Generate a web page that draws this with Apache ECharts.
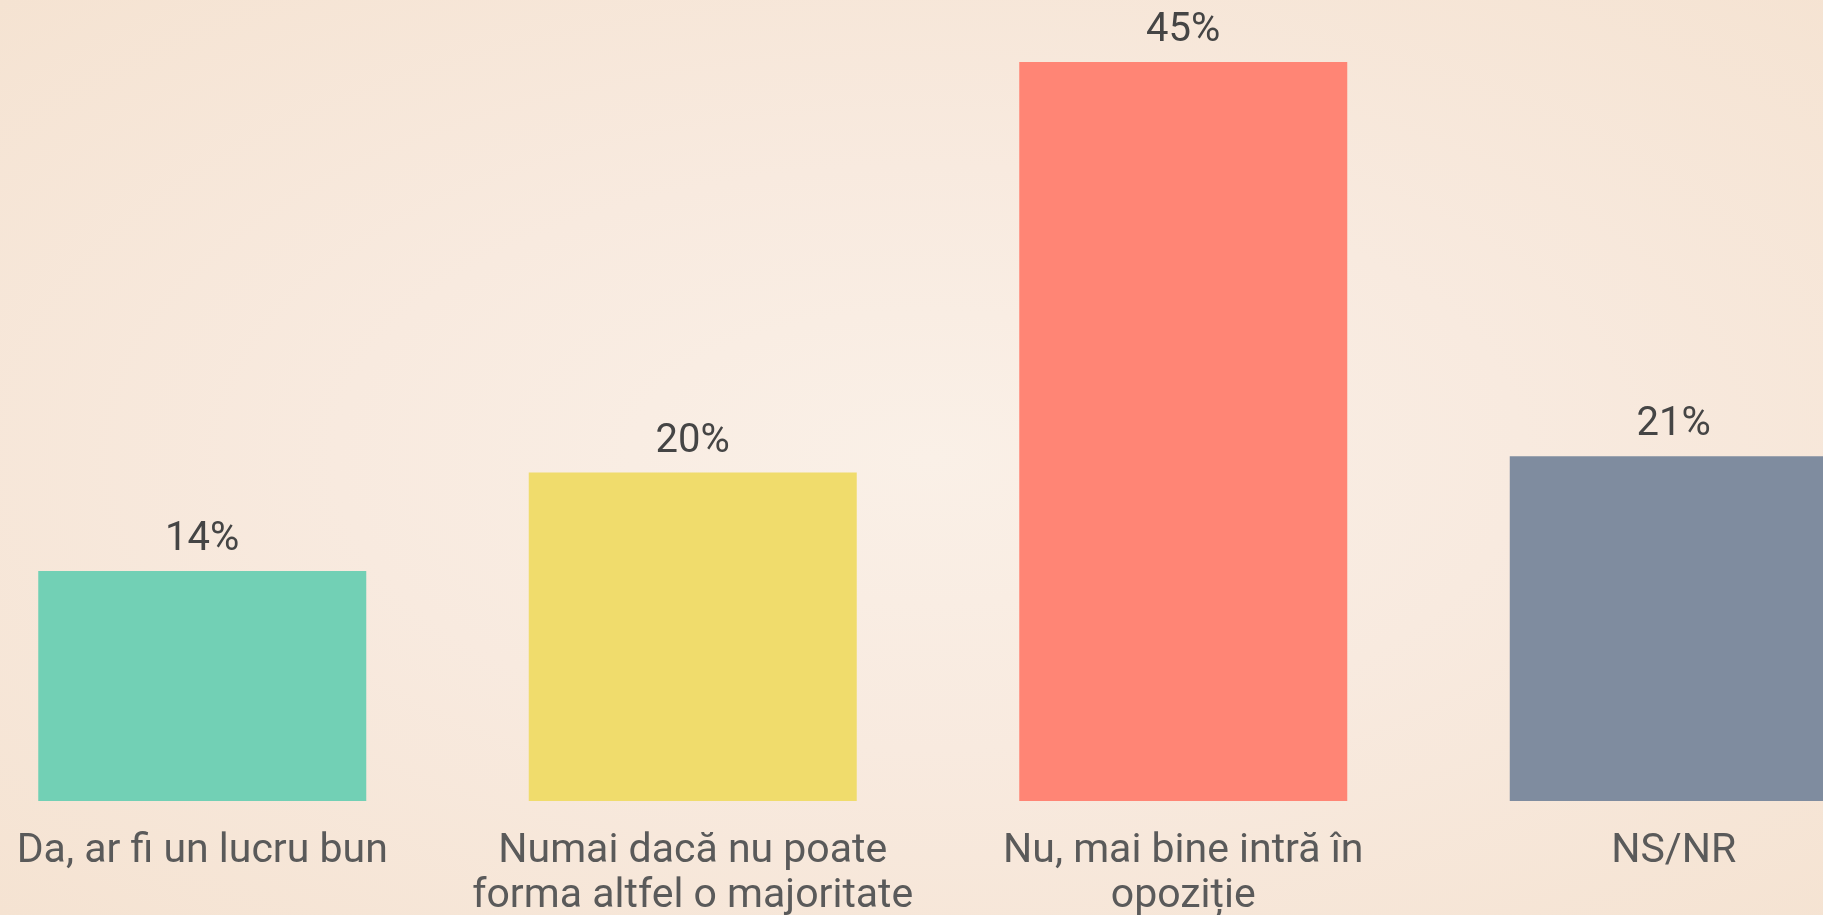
<!DOCTYPE html>
<html>
<head>
<meta charset="utf-8">
<script src="https://cdn.jsdelivr.net/npm/echarts@6/dist/echarts.min.js"></script>
<style>
  html, body { margin: 0; padding: 0; }
  #chart {
    width: 1823px;
    height: 915px;
    background: radial-gradient(ellipse at 51% 50%, #faf0e7 0%, #f8eadf 45%, #f5e3d2 100%);
  }
</style>
</head>
<body>
<div id="chart"></div>
<script>
var categories = [
  "Da, ar fi un lucru bun",
  "Numai dacă nu poate\nforma altfel o majoritate",
  "Nu, mai bine intră în\nopoziție",
  "NS/NR"
];
var values = [14, 20, 45, 21];
var barColors = ["#72d0b5", "#f0dc6c", "#ff8575", "#7f8c9f"];

var chart = echarts.init(document.getElementById("chart"));
var option = {
  backgroundColor: "transparent",
  animation: false,
  grid: {
    left: -43,
    width: 1962,
    top: 62,
    bottom: 114,
    containLabel: false,
    outerBoundsMode: "none",
  },
  xAxis: {
    type: "category",
    data: categories,
    axisLine: { show: false },
    axisTick: { show: false },
    axisLabel: {
      interval: 0,
      margin: 28,
      color: "#5a5a5a",
      fontFamily: "Roboto",
      fontSize: 41,
      lineHeight: 45,
    },
  },
  yAxis: {
    type: "value",
    min: 0,
    max: 45,
    show: false,
    splitLine: { show: false },
  },
  series: [
    {
      type: "bar",
      barWidth: 328,
      data: values.map(function (v, i) {
        return { value: v, itemStyle: { color: barColors[i] } };
      }),
      label: {
        show: true,
        position: "top",
        distance: 11,
        formatter: "{c}%",
        color: "#454545",
        fontFamily: "Roboto",
        fontSize: 40,
      },
    },
  ],
};
chart.setOption(option);
</script>
</body>
</html>
